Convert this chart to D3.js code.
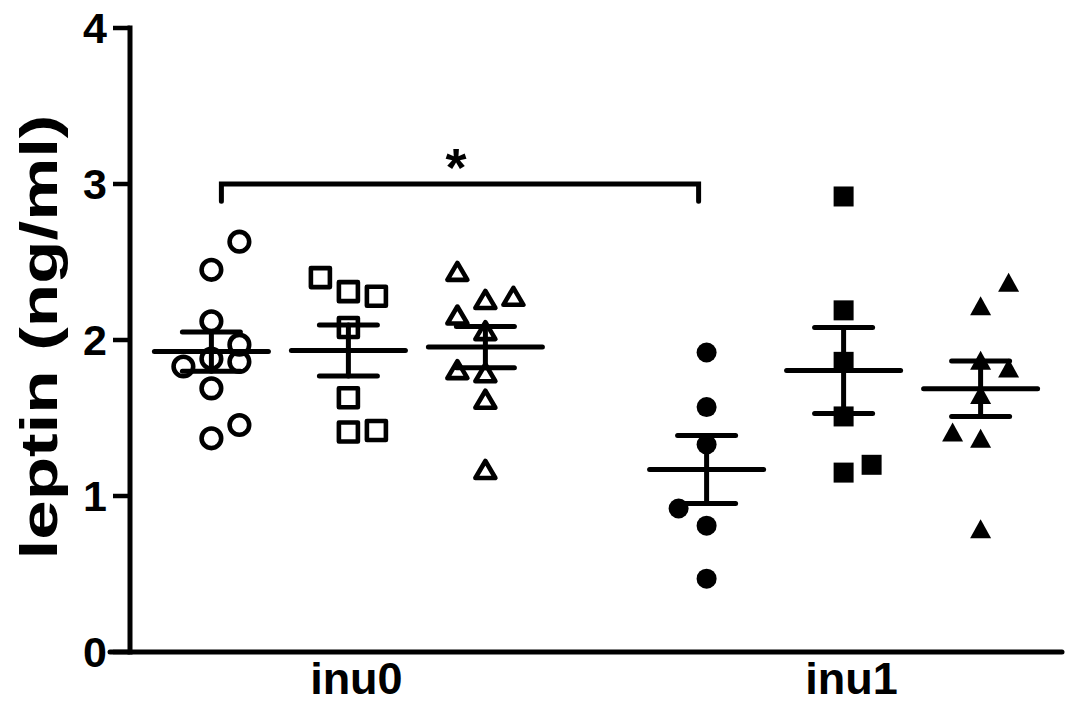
<!DOCTYPE html>
<html>
<head>
<meta charset="utf-8">
<script src="https://cdn.jsdelivr.net/npm/d3@7"></script>
<style>
  html, body { margin: 0; padding: 0; background: #fff; }
  svg { display: block; }
  text { font-family: "Liberation Sans", Arial, sans-serif; font-weight: bold; fill: #000; }
</style>
</head>
<body>
<div id="chart"></div>
<script>
// categories on the x axis and the three series inside each
const categories = ['inu0', 'inu1'];
const seriesNames = ['circle', 'square', 'triangle'];

// leptin values (ng/ml)
const inu0Circle   = [2.63, 2.45, 2.12, 1.97, 1.86, 1.88, 1.83, 1.69, 1.455, 1.37];
const inu0Square   = [2.40, 2.31, 2.28, 2.08, 1.63, 1.41, 1.42];
const inu0Triangle = [2.44, 2.26, 2.28, 2.16, 2.06, 1.81, 1.79, 1.62, 1.17];
const inu1Circle   = [1.92, 1.57, 1.33, 0.92, 0.81, 0.47];
const inu1Square   = [2.92, 2.19, 1.86, 1.51, 1.15, 1.20];
const inu1Triangle = [2.37, 2.22, 1.87, 1.82, 1.65, 1.41, 1.37, 0.79];

// scatter lane of each point (-1 left, 0 centre, 1 right), as seen in the picture
const inu0CircleLane   = [1, 0, 0, 1, 1, 0, -1, 0, 1, 0];
const inu0SquareLane   = [-1, 0, 1, 0, 0, 0, 1];
const inu0TriangleLane = [-1, 0, 1, -1, 0, -1, 0, 0, 0];
const inu1CircleLane   = [0, 0, 0, -1, 0, 0];
const inu1SquareLane   = [0, 0, 0, 0, 0, 1];
const inu1TriangleLane = [1, 0, 0, 1, 0, -1, 0, 0];

const yTicks = [0, 1, 2, 3, 4];
const yTitle = 'leptin (ng/ml)';

// significance bracket between inu0 circles and inu1 circles
const sigFrom = ['inu0', 'circle'];
const sigTo = ['inu1', 'circle'];
const sigLevel = 3.0;
const sigDrop = 0.11;
const sigLabel = '*';

const groups = [
  { cat: 'inu0', series: 'circle',   filled: false, values: inu0Circle,   lanes: inu0CircleLane },
  { cat: 'inu0', series: 'square',   filled: false, values: inu0Square,   lanes: inu0SquareLane },
  { cat: 'inu0', series: 'triangle', filled: false, values: inu0Triangle, lanes: inu0TriangleLane },
  { cat: 'inu1', series: 'circle',   filled: true,  values: inu1Circle,   lanes: inu1CircleLane },
  { cat: 'inu1', series: 'square',   filled: true,  values: inu1Square,   lanes: inu1SquareLane },
  { cat: 'inu1', series: 'triangle', filled: true,  values: inu1Triangle, lanes: inu1TriangleLane }
];

const width = 1071, height = 704;
const axisX = 130, axisRight = 1062, axisTop = 28, axisBottom = 652;

const svg = d3.select('#chart').append('svg')
  .attr('width', width)
  .attr('height', height);

const y = d3.scaleLinear().domain([0, 4]).range([axisBottom, axisTop]);
const xCat = d3.scalePoint().domain(categories).range([axisX, axisRight]).padding(0.441);
const xSer = d3.scalePoint().domain(seriesNames).range([-137, 137]);
const laneStep = 28;
const gx = (cat, ser) => xCat(cat) + xSer(ser);

// axes
svg.append('line')
  .attr('x1', axisX).attr('x2', axisX)
  .attr('y1', axisTop).attr('y2', axisBottom)
  .attr('stroke', '#000').attr('stroke-width', 5).attr('stroke-linecap', 'square');
svg.append('line')
  .attr('x1', 110).attr('x2', axisRight)
  .attr('y1', axisBottom).attr('y2', axisBottom)
  .attr('stroke', '#000').attr('stroke-width', 5).attr('stroke-linecap', 'round');

const yTick = svg.selectAll('.ytick').data(yTicks).enter().append('g').attr('class', 'ytick');
yTick.append('line')
  .attr('x1', 113).attr('x2', axisX)
  .attr('y1', d => y(d)).attr('y2', d => y(d))
  .attr('stroke', '#000').attr('stroke-width', 4.5);
yTick.append('text')
  .attr('x', 107).attr('y', d => y(d) + 15)
  .attr('text-anchor', 'end')
  .style('font-size', '43px')
  .text(d => d);

svg.selectAll('.xlab').data(categories).enter().append('text')
  .attr('class', 'xlab')
  .attr('x', d => xCat(d) + 8)
  .attr('y', 694)
  .attr('text-anchor', 'middle')
  .style('font-size', '45px')
  .text(d => d);

svg.append('text')
  .attr('transform', 'translate(57,337) rotate(-90) scale(1.39,1)')
  .attr('text-anchor', 'middle')
  .style('font-size', '51px')
  .text(yTitle);

// symbols
function symbolPath(series, filled) {
  if (series === 'circle') {
    const r = filled ? 10 : 9.8;
    return 'M' + (-r) + ',0A' + r + ',' + r + ' 0 1,0 ' + r + ',0A' + r + ',' + r + ' 0 1,0 ' + (-r) + ',0Z';
  }
  if (series === 'square') {
    const s = filled ? 10 : 9.5;
    return 'M' + (-s) + ',' + (-s) + 'H' + s + 'V' + s + 'H' + (-s) + 'Z';
  }
  const w = filled ? 10.5 : 10, h = filled ? 9.5 : 8.5;
  return 'M0,' + (-h) + 'L' + w + ',' + h + 'L' + (-w) + ',' + h + 'Z';
}

groups.forEach(g => {
  const cx = gx(g.cat, g.series);
  const layer = svg.append('g');
  layer.selectAll('path').data(g.values).enter().append('path')
    .attr('d', symbolPath(g.series, g.filled))
    .attr('transform', (d, i) => 'translate(' + (cx + g.lanes[i] * laneStep) + ',' + y(d) + ')')
    .attr('fill', g.filled ? '#000' : 'none')
    .attr('stroke', g.filled ? 'none' : '#000')
    .attr('stroke-width', 4.6)
    .attr('stroke-linejoin', 'round');

  const mean = d3.mean(g.values);
  const sem = d3.deviation(g.values) / Math.sqrt(g.values.length);
  const bars = svg.append('g')
    .attr('stroke', '#000').attr('stroke-width', 5).attr('stroke-linecap', 'round');
  bars.append('line')
    .attr('x1', cx - 57).attr('x2', cx + 57)
    .attr('y1', y(mean)).attr('y2', y(mean));
  bars.append('line')
    .attr('x1', cx).attr('x2', cx)
    .attr('y1', y(mean + sem)).attr('y2', y(mean - sem));
  [mean + sem, mean - sem].forEach(v => {
    bars.append('line')
      .attr('x1', cx - 29).attr('x2', cx + 29)
      .attr('y1', y(v)).attr('y2', y(v));
  });
});

// significance bracket
const bx1 = gx(sigFrom[0], sigFrom[1]) + 10;
const bx2 = gx(sigTo[0], sigTo[1]) - 8;
svg.append('path')
  .attr('d', 'M' + bx1 + ',' + y(sigLevel - sigDrop) + 'V' + y(sigLevel) + 'H' + bx2 + 'V' + y(sigLevel - sigDrop))
  .attr('fill', 'none')
  .attr('stroke', '#000').attr('stroke-width', 5)
  .attr('stroke-linecap', 'round').attr('stroke-linejoin', 'miter');
svg.append('text')
  .attr('x', (bx1 + bx2) / 2 - 4)
  .attr('y', y(sigLevel) + 2)
  .attr('text-anchor', 'middle')
  .style('font-size', '54px')
  .text(sigLabel);
</script>
</body>
</html>
